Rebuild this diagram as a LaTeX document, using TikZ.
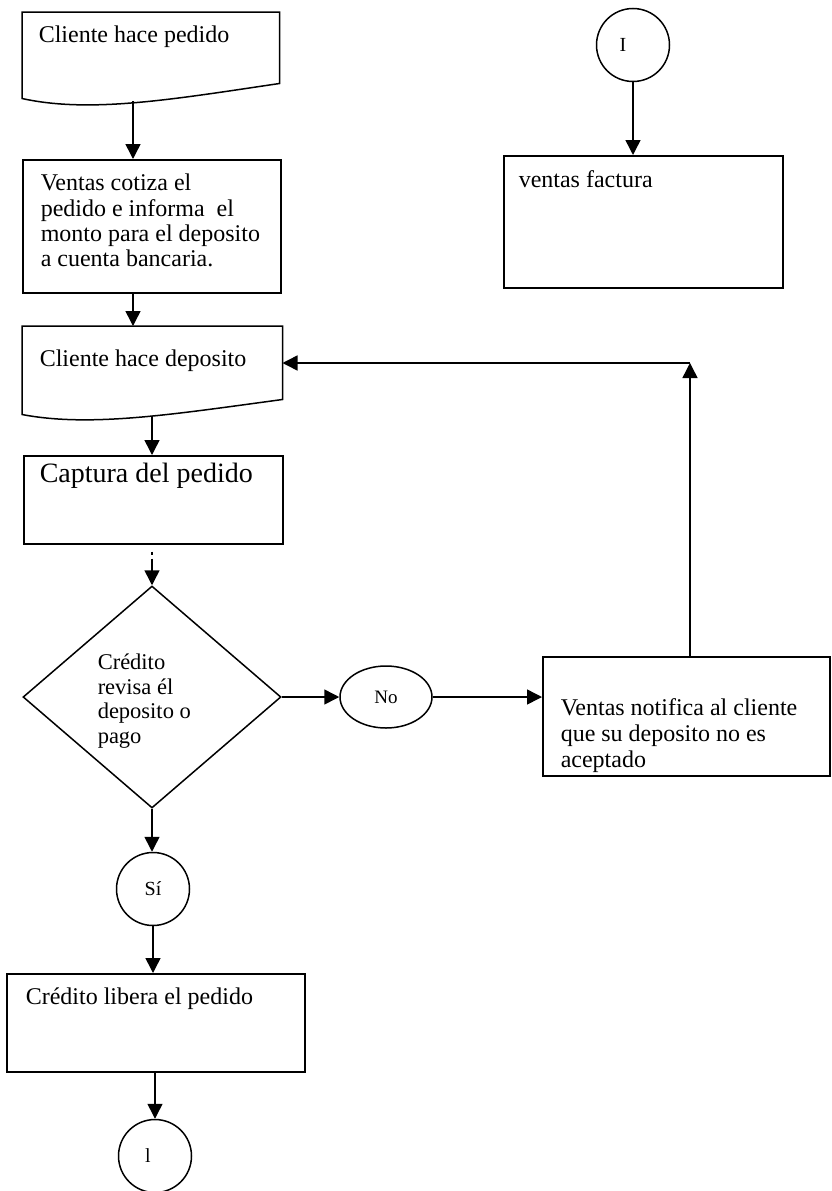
\documentclass[tikz,border=0pt]{standalone}
\usepackage{fontspec}
\setmainfont{Liberation Serif}
\usetikzlibrary{arrows.meta,shapes.geometric}
\begin{document}
\begin{tikzpicture}[x=1pt,y=-1pt,line width=1.5pt,
  box/.style={draw,rectangle,inner sep=0pt,anchor=north west},
  frame/.style={rectangle,inner sep=0pt,anchor=north west},
  txt/.style={inner sep=0pt,align=left,anchor=base west,font=\fontsize{24}{25.3}\selectfont},
  conn/.style={draw,circle,inner sep=0pt,minimum size=73pt,font=\fontsize{20}{22}\selectfont},
  arr/.style={-{Triangle[length=15pt,width=15pt]}}]
\useasboundingbox (0,0) rectangle (831,1191);
\fill[white] (0,0) rectangle (831,1191);

% --- left column: order intake ---
% (multi-line texts are placed by the baseline of their last line)
\node[frame,minimum width=256pt,minimum height=85pt] (doc1) at (22,12) {};
\draw (doc1.south west) -- (doc1.north west) -- (doc1.north east)
  -- ([yshift=15pt]doc1.south east) .. controls +(-108,16) and +(68,15) .. (doc1.south west) -- cycle;
\node[txt] (t1) at (38,42) {Cliente hace pedido};
\coordinate (doc1out) at (133,101);

\node[box,minimum width=258pt,minimum height=133pt] (b2) at (22,159) {};
\node[txt] (t2) at (40,266.7) {Ventas cotiza el\\pedido e informa~ el\\monto para el deposito\\a cuenta bancaria.};

\node[frame,minimum width=259pt,minimum height=87pt] (doc3) at (22,326) {};
\draw (doc3.south west) -- (doc3.north west) -- (doc3.north east)
  -- ([yshift=15pt]doc3.south east) .. controls +(-111,15) and +(68,13) .. (doc3.south west) -- cycle;
\node[txt] (t3) at (39,366) {Cliente hace deposito};
\coordinate (doc3out) at (152,416);

\node[box,minimum width=259pt,minimum height=88pt] (b4) at (23,455) {};
\node[txt,font=\fontsize{28}{30}\selectfont] (t4) at (39,482) {Captura del pedido};

\node[draw,diamond,inner sep=0pt,minimum width=258pt,minimum height=222pt] (dia) at (152,697) {};
\node[txt,font=\fontsize{22.5}{24.5}\selectfont] (diat) at (97,743) {Crédito\\revisa él\\deposito o\\pago};

\node[draw,ellipse,inner sep=0pt,minimum width=92pt,minimum height=62pt,font=\fontsize{19}{21}\selectfont] (no) at (386,697) {No};

\node[box,minimum width=287pt,minimum height=119pt] (nt) at (542,656) {};
\node[txt,font=\fontsize{24}{26.3}\selectfont] (ntt) at (560,767.6) {Ventas notifica al cliente\\que su deposito no es\\aceptado};
\coordinate (up) at (690,363);

\node[conn] (si) at (153,889) {Sí};

\node[box,minimum width=298pt,minimum height=98pt] (lib) at (6,973) {};
\node[txt] (tl) at (25,1004) {Crédito libera el pedido};

\node[conn] (c1) at (155,1156) {l\kern14pt};

% --- right column: invoicing ---
\node[conn] (c2) at (633,45) {I\kern20pt};
\node[box,minimum width=279pt,minimum height=132pt] (fac) at (503,155) {};
\node[txt] (tf) at (518,187) {ventas factura};

% --- connectors ---
\draw[arr] (doc1out) -- (doc1out |- b2.north);
\draw[arr] (b2.south -| doc1out) -- (doc1out |- doc3.north);
\draw[arr] (doc3out) -- (doc3out |- b4.north);
\draw[arr,dash pattern=on 0pt off 7pt on 3pt off 4pt on 60pt] (dia.north |- b4.south) -- (dia.north);
\draw[arr] (dia.east) -- (no.west);
\draw[arr] (no.east) -- (no.east -| nt.west);
\draw[arr] (up |- nt.north) -- (up);
\draw[arr] (up) -- (up -| doc3.east);
\draw[arr] (dia.south) -- (dia.south |- si.north);
\draw[arr] (si.south) -- (si.south |- lib.north);
\draw[arr] (c1.north |- lib.south) -- (c1.north);
\draw[arr] (c2.south) -- (c2.south |- fac.north);
\end{tikzpicture}
\end{document}
